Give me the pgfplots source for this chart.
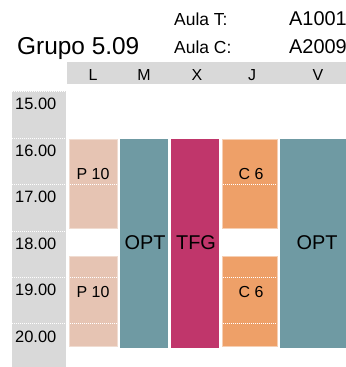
\documentclass[border=0pt]{standalone}
\usepackage{pgfplots}
\pgfplotsset{compat=1.18}
\usepackage{fontspec}
\setmainfont{Liberation Sans}
\definecolor{graybg}{HTML}{D9D9D9}
\definecolor{pinkc}{HTML}{E6C4B3}
\definecolor{tealc}{HTML}{6F9AA3}
\definecolor{magc}{HTML}{C0366B}
\definecolor{orgc}{HTML}{EEA068}
\newcommand{\fs}[1]{\fontsize{#1}{#1}\selectfont}
\begin{document}
\begin{tikzpicture}
\begin{axis}[
  scale only axis, width=346bp, height=367bp,
  xmin=0, xmax=346, ymin=13.032, ymax=20.925,
  y dir=reverse, hide axis, clip=false,
  unbounded coords=jump,
]
% background bands
\addplot[fill=graybg, draw=none] coordinates {(67,14.366) (346,14.366) (346,14.839) (67,14.839)} -- cycle;
\addplot[fill=graybg, draw=none] coordinates {(12,14.99) (66,14.99) (66,20.925) (12,20.925)} -- cycle;
% L : P 10
\addplot[fill=pinkc, draw=pinkc!60!white, line width=0.6bp] coordinates {(69,16.02) (117,16.02) (117,17.95) (69,17.95)} -- cycle;
\addplot[fill=pinkc, draw=pinkc!60!white, line width=0.6bp] coordinates {(69,18.55) (117,18.55) (117,20.48) (69,20.48)} -- cycle;
% M : OPT
\addplot[fill=tealc, draw=none] coordinates {(120,16.02) (168,16.02) (168,20.52) (120,20.52)} -- cycle;
% X : TFG
\addplot[fill=magc, draw=none] coordinates {(171,16.02) (219,16.02) (219,20.52) (171,20.52)} -- cycle;
% J : C 6
\addplot[fill=orgc, draw=orgc!50!white, line width=0.6bp] coordinates {(222,16.02) (277,16.02) (277,17.95) (222,17.95)} -- cycle;
\addplot[fill=orgc, draw=orgc!50!white, line width=0.6bp] coordinates {(222,18.55) (277,18.55) (277,20.48) (222,20.48)} -- cycle;
% V : OPT
\addplot[fill=tealc, draw=none] coordinates {(280,16.02) (346,16.02) (346,20.52) (280,20.52)} -- cycle;
% dotted hour lines
\addplot[white, densely dotted, line width=1bp] coordinates {
 (12,15) (66,15) (nan,nan)
 (12,16) (66,16) (nan,nan)
 (12,17) (66,17) (nan,nan)
 (12,18) (66,18) (nan,nan)
 (12,19) (66,19) (nan,nan)
 (12,20) (66,20) (nan,nan)
 (70,17) (116,17) (nan,nan)
 (70,19) (116,19) (nan,nan)
 (70,20) (116,20) (nan,nan)
 (223,17) (276,17) (nan,nan)
 (223,19) (276,19) (nan,nan)
 (223,20) (276,20)};
\addplot[white!85!black, densely dotted, line width=0.8bp] coordinates {(67,14.835) (346,14.835)};
% texts
\node[anchor=base west, inner sep=0, font=\fs{24.5}] at (axis cs:17,14.194) {Grupo 5.09};
\node[anchor=base west, inner sep=0, font=\fs{17.5}] at (axis cs:174,13.570) {Aula T:};
\node[anchor=base west, inner sep=0, font=\fs{20}] at (axis cs:289,13.570) {A1001};
\node[anchor=base west, inner sep=0, font=\fs{17.5}] at (axis cs:174,14.172) {Aula C:};
\node[anchor=base west, inner sep=0, font=\fs{20}] at (axis cs:289,14.172) {A2009};
\node[inner sep=0, font=\fs{16}] at (axis cs:93,14.645) {L};
\node[inner sep=0, font=\fs{16}] at (axis cs:144,14.645) {M};
\node[inner sep=0, font=\fs{16}] at (axis cs:197,14.645) {X};
\node[inner sep=0, font=\fs{16}] at (axis cs:252,14.645) {J};
\node[inner sep=0, font=\fs{16}] at (axis cs:318,14.645) {V};
\node[anchor=west, inner sep=0, font=\fs{16.5}] at (axis cs:15,15.27) {15.00};
\node[anchor=west, inner sep=0, font=\fs{16.5}] at (axis cs:15,16.27) {16.00};
\node[anchor=west, inner sep=0, font=\fs{16.5}] at (axis cs:15,17.27) {17.00};
\node[anchor=west, inner sep=0, font=\fs{16.5}] at (axis cs:15,18.27) {18.00};
\node[anchor=west, inner sep=0, font=\fs{16.5}] at (axis cs:15,19.27) {19.00};
\node[anchor=west, inner sep=0, font=\fs{16.5}] at (axis cs:15,20.27) {20.00};
\node[inner sep=0, font=\fs{16}] at (axis cs:93,16.77) {P 10};
\node[inner sep=0, font=\fs{16}] at (axis cs:93,19.31) {P 10};
\node[inner sep=0, font=\fs{16}] at (axis cs:251,16.77) {C 6};
\node[inner sep=0, font=\fs{16}] at (axis cs:251,19.31) {C 6};
\node[inner sep=0, font=\fs{20}] at (axis cs:145,18.24) {OPT};
\node[inner sep=0, font=\fs{20}] at (axis cs:196,18.24) {TFG};
\node[inner sep=0, font=\fs{20}] at (axis cs:317,18.24) {OPT};
\end{axis}
\pgfresetboundingbox
\path[use as bounding box] (0,0) rectangle (346bp,367bp);
\end{tikzpicture}
\end{document}
